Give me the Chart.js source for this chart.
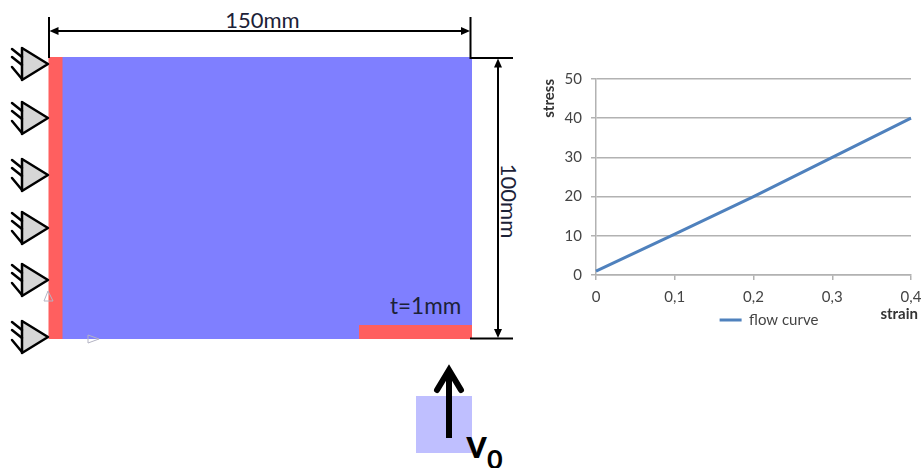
<!DOCTYPE html>
<html>
<head>
<meta charset="utf-8">
<title>flow curve</title>
<script src="https://cdn.jsdelivr.net/npm/chart.js@4"></script>
<style>
    html, body { margin: 0; background: #fff; }
    #wrap { position: relative; width: 921px; height: 468px; overflow: hidden; }
    #sketch, #flow { position: absolute; left: 0; top: 0; }
    #sketch text { font-family: Lato, "Open Sans", sans-serif; fill: #1c2238; }
</style>
</head>
<body>
<div id="wrap">
    <svg id="sketch" width="921" height="468" viewBox="0 0 921 468">
        <!-- plate -->
        <rect x="62" y="57" width="410" height="282" fill="#7f7fff"/>
        <rect x="48.5" y="57" width="14" height="282" fill="#ff5f5f"/>
        <rect x="359" y="325" width="113" height="14" fill="#ff5f5f"/>
        <rect x="416" y="396" width="56" height="57" fill="#bfbfff"/>

        <!-- dimensions -->
        <g stroke="#000" stroke-width="2" fill="none">
            <path d="M49 17V58M470.5 17V58H513M470 338.500H513"/>
            <path d="M56 31H464M498 66V330"/>
        </g>
        <path d="M49.500 31l9-4v8zM470 31l-9-4v8zM498 58.500l-4 9h8zM498 338l-4-9h8z" fill="#000"/>
        <text x="262.500" y="28" font-size="22" text-anchor="middle">150mm</text>
        <text transform="translate(501,201) rotate(90)" font-size="22" text-anchor="middle">100mm</text>
        <text x="390" y="314" font-size="22.500">t=1mm</text>

        <!-- ghost markers left in the picture -->
        <path d="M48 291l-4 10h9zM88 335v8l11-4z" fill="none" stroke="#b4b4c4" stroke-width="1"/>

        <g id="supports"></g>

        <!-- velocity arrow -->
        <path d="M449 438V372" stroke="#000" stroke-width="6" fill="none"/>
        <path d="M437 390L449 370L461 390" stroke="#000" stroke-width="6" fill="none" stroke-linecap="round" stroke-linejoin="miter"/>
        <text x="466" y="458" font-size="40" font-weight="700" style="fill:#000">v</text>
        <text x="487" y="469" font-size="27" font-weight="700" style="fill:#000">0</text>
    </svg>
    <canvas id="flow" width="921" height="468"></canvas>
</div>

<script>
var strain = [0, 0.1, 0.2, 0.3, 0.4]
var stress = [1, 10.4, 20, 30, 40]
var seriesName = 'flow curve'
var supportRows = [64, 118, 175, 228, 280, 337]

// fixed supports down the left edge
var svgNs = 'http://www.w3.org/2000/svg'
supportRows.forEach(function(y){
    var tri = document.createElementNS(svgNs, 'path')
    tri.setAttribute('d', `M48 ${y}L22 ${y-16}V${y+16}Z`)
    tri.setAttribute('fill', '#d6d6d6')
    tri.setAttribute('stroke', '#000')
    tri.setAttribute('stroke-width', '2.500')
    tri.setAttribute('stroke-linejoin', 'round')
    document.getElementById('supports').appendChild(tri)

    var hatch = document.createElementNS(svgNs, 'path')
    hatch.setAttribute('d', `M12 ${y-15}L22 ${y-7}M12 ${y-7}L22 ${y+1}M12 ${y+3}L22 ${y+15}`)
    hatch.setAttribute('stroke', '#000')
    hatch.setAttribute('stroke-width', '2.500')
    hatch.setAttribute('stroke-linecap', 'round')
    document.getElementById('supports').appendChild(hatch)
})

var fontName = 'Lato, "Open Sans", sans-serif'
var gridColor = '#b2b2b2'
var textColor = '#444444'

// legend sits under the axis, and "strain" hangs past the end of the axis
var placeLabels = {
    id: 'placeLabels',
    afterUpdate: function(chart){
        var legend = chart.legend
        var w = legend.width
        var h = legend.height
        legend.left = 772 - w / 2
        legend.right = legend.left + w
        legend.top = 320 - h / 2
        legend.bottom = legend.top + h
        legend.adjustHitBoxes()

        var x = chart.scales.x
        var drawTitle = x.drawTitle
        x.drawTitle = function(){
            this.right += 7
            drawTitle.call(this)
            this.right -= 7
        }
    }
}

var ctx = document.getElementById('flow')
var myChart = new Chart(ctx, {
    type: 'line',
    plugins: [placeLabels],
    data: {
        datasets: [{
            label: seriesName,
            data: strain.map(function(s, i){ return { x: s, y: stress[i] } }),
            borderColor: '#4f81bd',
            backgroundColor: '#4f81bd',
            borderWidth: 3,
            pointRadius: 0,
            tension: 0,
            clip: false
        }]
    },
    options: {
        responsive: false,
        animation: false,
        layout: {
            padding: { left: 540, top: 79, right: 10, bottom: 145 }
        },
        plugins: {
            tooltip: { enabled: false },
            legend: {
                position: 'chartArea',
                labels: {
                    usePointStyle: true,
                    pointStyle: 'line',
                    pointStyleWidth: 22,
                    boxHeight: 12,
                    padding: 4,
                    color: textColor,
                    font: { family: fontName, size: 15 }
                }
            }
        },
        scales: {
            x: {
                type: 'linear',
                min: 0,
                max: 0.4,
                afterFit: function(scale){
                    scale.height = 48
                    scale.paddingRight = 0
                },
                ticks: {
                    stepSize: 0.1,
                    maxRotation: 0,
                    padding: 8,
                    color: textColor,
                    font: { family: fontName, size: 15 },
                    callback: function(value){ return String(Number(value.toFixed(1))).replace('.', ',') }
                },
                grid: { drawOnChartArea: false, tickLength: 5, color: gridColor, lineWidth: 1.5 },
                border: { color: gridColor, width: 1.5 },
                title: {
                    display: true,
                    text: 'strain',
                    align: 'end',
                    color: '#333333',
                    padding: 0,
                    font: { family: fontName, size: 15, weight: '700' }
                }
            },
            y: {
                min: 0,
                max: 50,
                afterFit: function(scale){ scale.width = 56 },
                ticks: {
                    stepSize: 10,
                    padding: 9,
                    color: textColor,
                    font: { family: fontName, size: 15 }
                },
                grid: { tickLength: 5, color: gridColor, lineWidth: 1.5 },
                border: { color: gridColor, width: 1.5 },
                title: {
                    display: true,
                    text: 'stress',
                    align: 'end',
                    color: '#333333',
                    padding: 0,
                    font: { family: fontName, size: 15, weight: '700' }
                }
            }
        }
    }
})
</script>
</body>
</html>
